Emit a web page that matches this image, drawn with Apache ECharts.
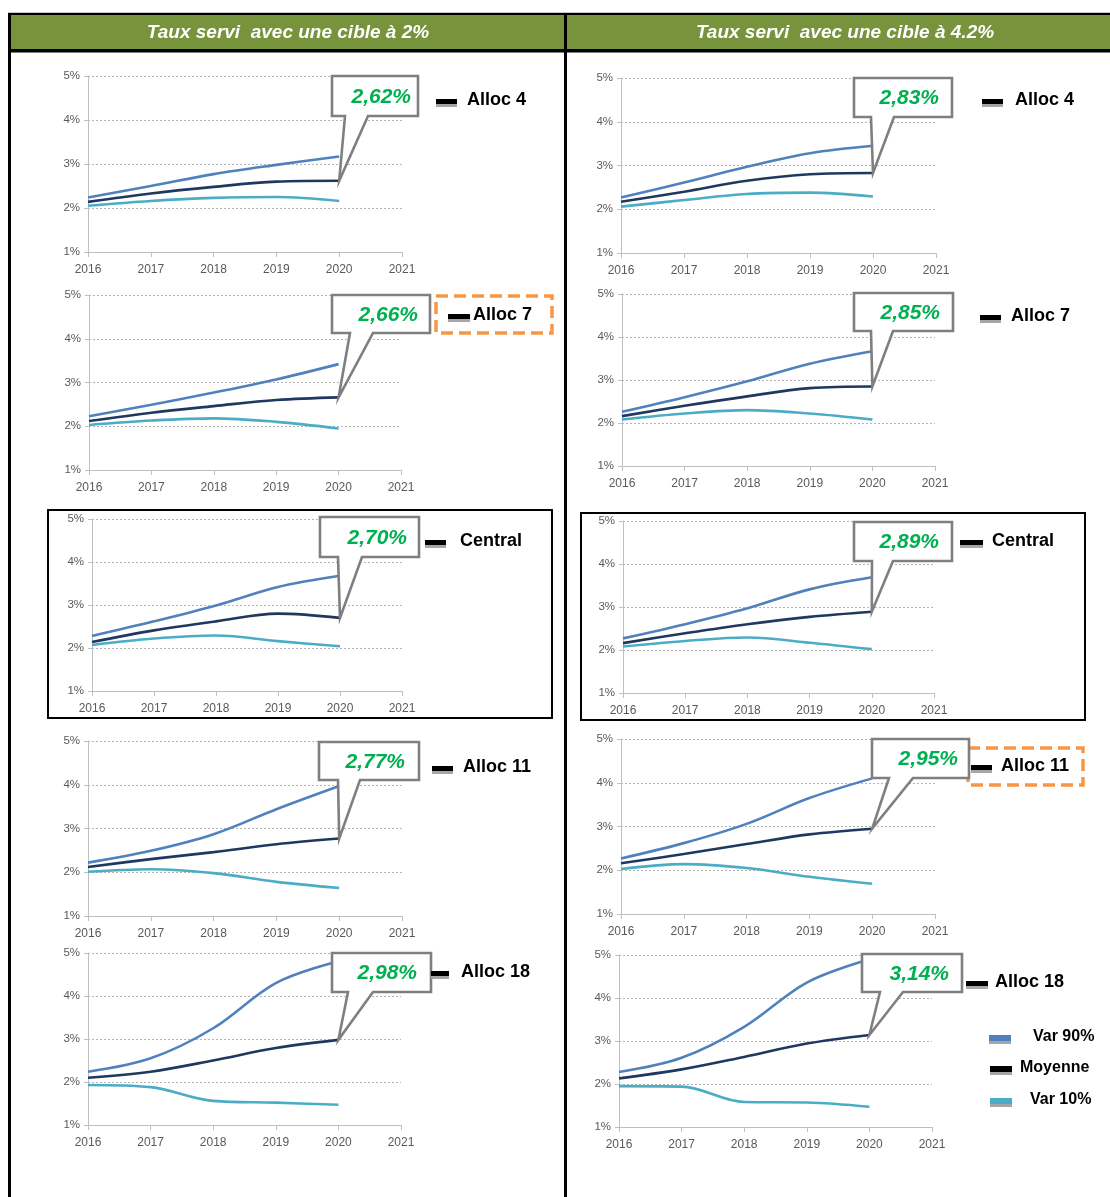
<!DOCTYPE html>
<html>
<head>
<meta charset="utf-8">
<script src="https://cdn.jsdelivr.net/npm/echarts@6/dist/echarts.min.js"></script>
<style>
  html, body { margin: 0; padding: 0; background: #ffffff; }
  #chart { width: 1110px; height: 1197px; }
</style>
</head>
<body>
<div id="chart"></div>
<script>
// ---- data ----
const years = ['2016', '2017', '2018', '2019', '2020', '2021'];
const yTicks = [1, 2, 3, 4, 5];
const scenarioTitles = ['Taux servi  avec une cible à 2%', 'Taux servi  avec une cible à 4.2%'];
const allocations = ['Alloc 4', 'Alloc 7', 'Central', 'Alloc 11', 'Alloc 18'];
const seriesNames = ['Var 90%', 'Moyenne', 'Var 10%'];

// target 2% (one row per allocation, values 2016..2020, in %)
const var90Cible2 = [
  [2.24, 2.50, 2.77, 2.98, 3.17],
  [2.23, 2.49, 2.77, 3.07, 3.42],
  [2.28, 2.62, 2.99, 3.42, 3.68],
  [2.22, 2.49, 2.87, 3.44, 3.97],
  [2.24, 2.55, 3.25, 4.30, 4.81]
];
const moyenneCible2 = [
  [2.14, 2.33, 2.48, 2.60, 2.62],
  [2.12, 2.31, 2.46, 2.60, 2.66],
  [2.14, 2.41, 2.62, 2.80, 2.70],
  [2.12, 2.30, 2.46, 2.64, 2.77],
  [2.10, 2.24, 2.50, 2.79, 2.98]
];
const var10Cible2 = [
  [2.05, 2.16, 2.23, 2.25, 2.16],
  [2.03, 2.13, 2.18, 2.10, 1.95],
  [2.07, 2.22, 2.29, 2.16, 2.04],
  [2.01, 2.07, 1.98, 1.78, 1.64],
  [1.93, 1.88, 1.56, 1.52, 1.47]
];

// target 4.2%
const var90Cible42 = [
  [2.27, 2.61, 2.97, 3.28, 3.45],
  [2.26, 2.60, 2.97, 3.38, 3.67],
  [2.27, 2.60, 2.97, 3.41, 3.69],
  [2.27, 2.62, 3.06, 3.65, 4.10],
  [2.28, 2.61, 3.33, 4.36, 4.90]
];
const moyenneCible42 = [
  [2.17, 2.40, 2.65, 2.80, 2.83],
  [2.16, 2.40, 2.62, 2.81, 2.85],
  [2.16, 2.39, 2.60, 2.77, 2.89],
  [2.16, 2.37, 2.60, 2.82, 2.95],
  [2.13, 2.34, 2.63, 2.94, 3.14]
];
const var10Cible42 = [
  [2.06, 2.21, 2.35, 2.38, 2.29],
  [2.08, 2.22, 2.30, 2.22, 2.08],
  [2.08, 2.21, 2.29, 2.17, 2.02],
  [2.03, 2.14, 2.05, 1.85, 1.69],
  [1.95, 1.94, 1.58, 1.57, 1.47]
];

// ---- layout ----
// plot rectangles [x0, y0, x1, y1]
const gridRects = [
  [88, 76, 402, 252], [89, 295, 401, 470], [92, 519, 402, 691], [88, 741, 402, 916], [88, 953, 401, 1125],
  [621, 78, 936, 253], [622, 294, 935, 466], [623, 521, 934, 693], [621, 739, 935, 914], [619, 955, 932, 1127]
];
// callout bubbles [x0, y0, x1, y1, pointerBase0, pointerBase1, textRight]
const calloutBoxes = [
  [332, 76, 418, 116, 345, 368, 411], [332, 295, 430, 333, 350, 373, 418], [320, 517, 419, 557, 338, 362, 407],
  [319, 742, 419, 780, 338, 360, 405], [332, 953, 431, 992, 348, 373, 417],
  [854, 78, 952, 117, 871, 894, 939], [854, 293, 953, 331, 871, 893, 940], [854, 522, 952, 561, 872, 893, 939],
  [872, 739, 969, 778, 889, 913, 958], [862, 954, 962, 992, 880, 903, 949]
];
// allocation tags [markerX0, markerX1, textX, textY]
const tagPos = [
  [436, 457, 467, 100], [448, 470, 473, 315], [425, 446, 460, 541], [432, 453, 463, 767], [431, 449, 461, 972],
  [982, 1003, 1015, 100], [980, 1001, 1011, 316], [960, 983, 992, 541], [971, 992, 1001, 766], [966, 988, 995, 982]
];
const keyPos = [[989, 1011, 1033, 1037], [990, 1012, 1020, 1068], [990, 1012, 1030, 1100]];

const colors = ['#4f81bd', '#1f3860', '#4bacc6'];
const axisGray = '#bfbfbf';
const labelFont = '"Liberation Sans", Arial, sans-serif';

const panelData = [];
for (let i = 0; i < 5; i++) panelData.push([var90Cible2[i], moyenneCible2[i], var10Cible2[i]]);
for (let i = 0; i < 5; i++) panelData.push([var90Cible42[i], moyenneCible42[i], var10Cible42[i]]);

const grids = [], xAxes = [], yAxes = [], series = [];
gridRects.forEach((r, i) => {
  grids.push({ left: r[0], top: r[1], width: r[2] - r[0], height: r[3] - r[1], containLabel: false });
  xAxes.push({
    gridIndex: i, type: 'category', data: years, boundaryGap: false,
    axisLine: { show: true, lineStyle: { color: axisGray, width: 1 } },
    axisTick: { show: true, length: 5, interval: 0, lineStyle: { color: axisGray } },
    axisLabel: { color: '#595959', fontSize: 12, fontFamily: labelFont, margin: 12, interval: 0 },
    splitLine: { show: false }
  });
  yAxes.push({
    gridIndex: i, type: 'value', min: yTicks[0], max: yTicks[yTicks.length - 1], interval: 1,
    axisLine: { show: true, lineStyle: { color: axisGray, width: 1 } },
    axisTick: { show: true, length: 4, lineStyle: { color: axisGray } },
    axisLabel: { color: '#595959', fontSize: 11.5, fontFamily: labelFont, margin: 8, formatter: v => v + '%' },
    splitLine: { show: true, lineStyle: { color: '#b4b4b4', width: 1, type: [2, 2] } }
  });
  panelData[i].forEach((vals, k) => {
    series.push({
      name: seriesNames[k], type: 'line', xAxisIndex: i, yAxisIndex: i,
      data: vals, smooth: 0.35, showSymbol: false, silent: true,
      lineStyle: { color: colors[k], width: 2.6 }, z: 3 + (k === 1 ? 1 : 0)
    });
  });
});

const chart = echarts.init(document.getElementById('chart'), null, { renderer: 'canvas' });
chart.setOption({
  animation: false,
  backgroundColor: '#ffffff',
  grid: grids, xAxis: xAxes, yAxis: yAxes, series: series
});

// ---- frame, headers, callouts and tags ----
const g = [];
// header band and table frame
g.push({ type: 'rect', shape: { x: 10, y: 15, width: 1100, height: 34 }, style: { fill: '#77933c' }, z: 10 });
g.push({ type: 'rect', shape: { x: 8, y: 12, width: 1102, height: 1 }, style: { fill: '#c8c8c8' }, z: 10 });
g.push({ type: 'rect', shape: { x: 8, y: 13, width: 1102, height: 2 }, style: { fill: '#000000' }, z: 11 });
g.push({ type: 'rect', shape: { x: 8, y: 49, width: 1102, height: 3.5 }, style: { fill: '#000000' }, z: 11 });
g.push({ type: 'rect', shape: { x: 8, y: 13, width: 3, height: 1184 }, style: { fill: '#000000' }, z: 11 });
g.push({ type: 'rect', shape: { x: 564, y: 13, width: 3, height: 1184 }, style: { fill: '#000000' }, z: 11 });
[288, 845].forEach((cx, c) => {
  g.push({ type: 'text', z: 12, style: {
    text: scenarioTitles[c], x: cx, y: 33, fill: '#ffffff',
    font: 'italic bold 19px "Liberation Sans", Arial, sans-serif',
    textAlign: 'center', textVerticalAlign: 'middle', verticalAlign: 'middle'
  } });
});

// framed central scenario rows
[[48, 510, 504, 208], [581, 513, 504, 207]].forEach(b => {
  g.push({ type: 'rect', shape: { x: b[0], y: b[1], width: b[2], height: b[3] },
    style: { fill: 'none', stroke: '#000000', lineWidth: 2 }, z: 9 });
});
// highlighted allocations
[[436, 296, 116, 37], [968, 748, 115, 37]].forEach(b => {
  g.push({ type: 'rect', shape: { x: b[0], y: b[1], width: b[2], height: b[3] },
    style: { fill: 'none', stroke: '#f79646', lineWidth: 3.5, lineDash: [12, 6] }, z: 9 });
});

// callouts pointing at the last "Moyenne" point
calloutBoxes.forEach((b, i) => {
  const vals = panelData[i][1];
  const last = vals[vals.length - 1];
  const tip = chart.convertToPixel({ gridIndex: i }, [vals.length - 1, last]);
  g.push({ type: 'polygon', z: 20, shape: { points: [
      [b[0], b[1]], [b[2], b[1]], [b[2], b[3]], [b[5], b[3]], [tip[0], tip[1]], [b[4], b[3]], [b[0], b[3]]
    ] },
    style: { fill: '#ffffff', stroke: '#7f7f7f', lineWidth: 2.6, lineJoin: 'miter' } });
  g.push({ type: 'text', z: 21, style: {
    text: last.toFixed(2).replace('.', ',') + '%', x: b[6], y: (b[1] + b[3]) / 2 + 1,
    fill: '#00b050', font: 'italic bold 21px "Liberation Sans", Arial, sans-serif',
    textAlign: 'right', textVerticalAlign: 'middle', verticalAlign: 'middle'
  } });
});

// allocation tags
tagPos.forEach((p, i) => {
  g.push({ type: 'rect', z: 20, shape: { x: p[0], y: p[3] + 4, width: p[1] - p[0], height: 3 }, style: { fill: '#a6a6a6' } });
  g.push({ type: 'rect', z: 21, shape: { x: p[0], y: p[3] - 1, width: p[1] - p[0], height: 5 }, style: { fill: '#000000' } });
  g.push({ type: 'text', z: 21, style: {
    text: allocations[i % 5], x: p[2], y: p[3], fill: '#000000',
    font: 'bold 18px "Liberation Sans", Arial, sans-serif',
    textAlign: 'left', textVerticalAlign: 'middle', verticalAlign: 'middle'
  } });
});

// series key
keyPos.forEach((p, k) => {
  g.push({ type: 'rect', z: 20, shape: { x: p[0], y: p[3] + 4, width: p[1] - p[0], height: 3 }, style: { fill: '#a6a6a6' } });
  g.push({ type: 'rect', z: 21, shape: { x: p[0], y: p[3] - 2, width: p[1] - p[0], height: 6 }, style: { fill: k === 1 ? '#000000' : colors[k] } });
  g.push({ type: 'text', z: 21, style: {
    text: seriesNames[k], x: p[2], y: p[3], fill: '#000000',
    font: 'bold 16px "Liberation Sans", Arial, sans-serif',
    textAlign: 'left', textVerticalAlign: 'middle', verticalAlign: 'middle'
  } });
});

chart.setOption({ graphic: { elements: g } });
</script>
</body>
</html>
